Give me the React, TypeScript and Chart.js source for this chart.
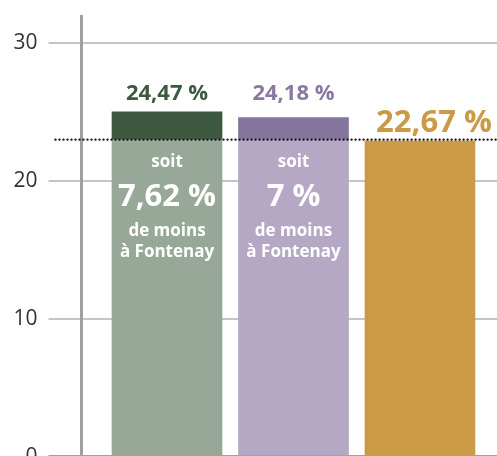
import React, { useEffect, useRef } from 'react';
import { Chart, registerables } from 'chart.js';

Chart.register(...registerables);

// ---- data ----
const categories = ['Groupe 1', 'Groupe 2', 'Fontenay'];
const barValues = [25.0, 24.6, 22.9];
const valueLabels = ['24,47 %', '24,18 %', '22,67 %'];
const referenceValue = 23.0;
const gapPrefix = ['soit', 'soit', ''];
const gapLabels = ['7,62 %', '7 %', ''];
const gapSuffix1 = ['de moins', 'de moins', ''];
const gapSuffix2 = ['à Fontenay', 'à Fontenay', ''];
const yTickValues = [0, 10, 20, 30];
const yMin = 0;
const yMax = 31.9;

// ---- styles ----
const lightColors = ['#97a899', '#b4a8c4', '#ca9a46'];
const darkColors = ['#3d5a40', '#85749c', '#ca9a46'];
const labelColors = ['#3d5a40', '#8a78a2', '#ca9a46'];
const labelSizes = [22, 22, 31];
const labelGap = [12, 17, 9];
const labelShiftX = [0, 0, 14];
const FONT = '"Open Sans", "Noto Sans", sans-serif';

const annotationPlugin = {
  id: 'annotations',
  afterDraw(chart: any) {
    const ctx = chart.ctx;
    const area = chart.chartArea;
    const y = chart.scales.y;
    const refY = y.getPixelForValue(referenceValue);
    // dotted reference line
    ctx.save();
    ctx.strokeStyle = '#111';
    ctx.lineWidth = 2.4;
    ctx.lineCap = 'round';
    ctx.setLineDash([0.001, 4]);
    ctx.beginPath();
    ctx.moveTo(area.left - 26, refY);
    ctx.lineTo(area.right, refY);
    ctx.stroke();
    ctx.restore();

    const metaTop = chart.getDatasetMeta(1);
    ctx.save();
    ctx.textAlign = 'center';
    ctx.textBaseline = 'alphabetic';
    categories.forEach((_, i) => {
      const el = metaTop.data[i];
      const top = Math.min(el.y, el.base);
      const cx = el.x;
      ctx.fillStyle = labelColors[i];
      ctx.font = `bold ${labelSizes[i]}px ${FONT}`;
      ctx.fillText(valueLabels[i], cx + labelShiftX[i], top - labelGap[i]);
      if (gapLabels[i]) {
        ctx.fillStyle = '#ffffff';
        ctx.font = `bold 17px ${FONT}`;
        ctx.fillText(gapPrefix[i], cx, refY + 27);
        ctx.font = `bold 31px ${FONT}`;
        ctx.fillText(gapLabels[i], cx, refY + 66);
        ctx.font = `bold 17px ${FONT}`;
        ctx.fillText(gapSuffix1[i], cx, refY + 96);
        ctx.fillText(gapSuffix2[i], cx, refY + 117);
      }
    });
    ctx.restore();
  },
};

export default function App() {
  const ref = useRef<HTMLCanvasElement | null>(null);
  useEffect(() => {
    if (!ref.current) return;
    const base = barValues.map((v) => Math.min(v, referenceValue));
    const top = barValues.map((v, i) => v - base[i]);
    const chart = new Chart(ref.current, {
      type: 'bar',
      data: {
        datasets: [
          {
            label: 'base',
            data: categories.map((_, i) => ({ x: i + 1, y: base[i] })),
            backgroundColor: lightColors,
            borderWidth: 0,
            barThickness: 110,
          },
          {
            label: 'écart',
            data: categories.map((_, i) => ({ x: i + 1, y: top[i] })),
            backgroundColor: darkColors,
            borderWidth: 0,
            barThickness: 110,
          },
        ],
      },
      options: {
        animation: false,
        responsive: false,
        maintainAspectRatio: false,
        layout: { padding: 0 },
        plugins: { legend: { display: false }, tooltip: { enabled: false } },
        scales: {
          x: {
            type: 'linear',
            min: 0.324,
            max: 3.609,
            offset: false,
            stacked: true,
            display: false,
          },
          y: {
            min: yMin,
            max: yMax,
            stacked: true,
            z: 1,
            afterFit: (s: any) => {
              s.width = 81.5;
            },
            afterBuildTicks: (s: any) => {
              s.ticks = yTickValues.map((v) => ({ value: v }));
            },
            grid: {
              color: (c: any) => (c.tick && c.tick.value === 0 ? '#a0a0a0' : 'rgba(150,150,150,0.55)'),
              tickColor: (c: any) => (c.tick && c.tick.value === 0 ? '#a0a0a0' : 'rgba(150,150,150,0.55)'),
              lineWidth: (c: any) => (c.tick && c.tick.value === 0 ? 5 : 2),
              tickLength: 33,
            },
            border: { display: true, color: '#a0a0a0', width: 3 },
            ticks: {
              padding: 11,
              color: '#333333',
              font: { family: FONT, size: 21 },
              callback: (v: any) => String(v),
            },
          },
        },
      },
      plugins: [annotationPlugin],
    });
    return () => chart.destroy();
  }, []);
  return (
    <div style={{ position: 'fixed', left: 0, top: 0, width: 497, height: 456, overflow: 'hidden', background: '#fff' }}>
      <canvas ref={ref} width={497} height={488} style={{ width: 497, height: 488, display: 'block', marginTop: -7 }} />
    </div>
  );
}
